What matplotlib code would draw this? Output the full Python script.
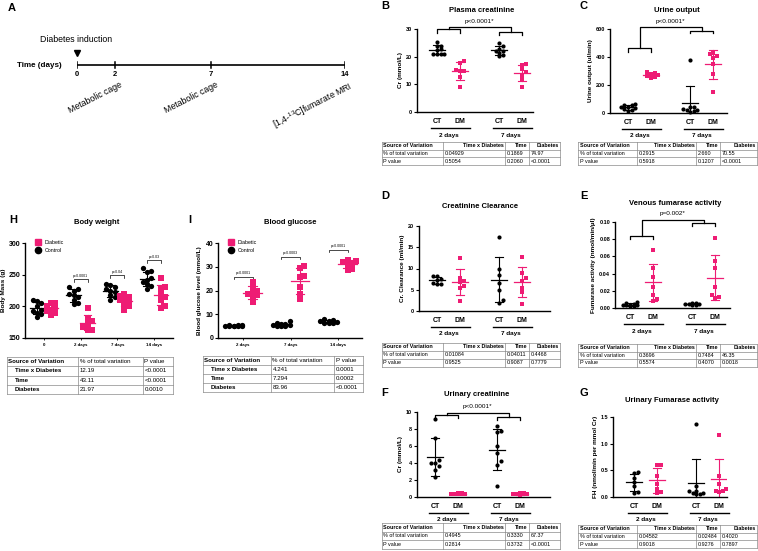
import numpy as np
import matplotlib
matplotlib.use("Agg")
import matplotlib.pyplot as plt
from matplotlib.lines import Line2D
from matplotlib import transforms

plt.rcParams['font.family'] = ['Liberation Sans', 'DejaVu Sans']

W, H = 758, 551
PINK = '#EE1C74'

# ---- timeline (panel A) ----
days = [0, 2, 7, 14]
day_notes = {2: 'Metabolic cage', 7: 'Metabolic cage',
             14: r'[1,4-$^{\mathregular{13}}$C]fumarate MRI'}

# ---- two-way panels: [CT 2d, DM 2d, CT 7d, DM 7d] ----
groups = ['CT', 'DM', 'CT', 'DM']
periods = ['2 days', '7 days']

plasma_cr = [
    [25.2, 24.0, 23.8, 22.6, 22.4, 21.0, 21.0, 20.9, 20.8],
    [18.6, 17.8, 15.2, 15.0, 14.8, 12.5, 9.0],
    [25.0, 24.0, 22.8, 22.2, 22.0, 21.5, 20.6, 20.2],
    [17.2, 17.0, 15.5, 14.5, 13.5, 12.0, 9.0],
]
urine_out = [
    [65, 60, 55, 45, 40, 35, 30, 22, 15],
    [292, 288, 280, 272, 262, 256, 250],
    [375, 45, 40, 30, 25, 20, 15, 10],
    [430, 420, 405, 395, 350, 280, 150],
]
cr_clear = [
    [8.3, 8.2, 7.5, 7.2, 6.5, 6.4, 6.3],
    [12.5, 7.8, 7.0, 6.8, 6.0, 5.5, 2.3],
    [17.3, 10.0, 8.5, 6.5, 5.0, 2.5, 1.8],
    [12.7, 9.0, 7.8, 7.0, 5.5, 4.5, 1.7],
]
fum_venous = [
    [0.007, 0.006, 0.005, 0.004, 0.004, 0.003, 0.003, 0.002, 0.002],
    [0.068, 0.046, 0.036, 0.024, 0.015, 0.011, 0.008],
    [0.006, 0.006, 0.005, 0.005, 0.005, 0.004, 0.004],
    [0.081, 0.055, 0.046, 0.025, 0.015, 0.013, 0.012],
]
urine_cr = [
    [9.2, 6.9, 4.3, 4.0, 4.0, 3.6, 3.2, 2.3],
    [0.5, 0.45, 0.4, 0.4, 0.35, 0.35, 0.3],
    [8.3, 7.8, 7.7, 6.0, 5.2, 4.2, 3.8, 1.3],
    [0.5, 0.45, 0.4, 0.35, 0.3, 0.3, 0.25],
]
fum_urine = [
    [0.47, 0.45, 0.35, 0.28, 0.20, 0.10, 0.08],
    [0.60, 0.60, 0.40, 0.25, 0.15, 0.10, 0.07],
    [1.36, 0.20, 0.12, 0.12, 0.08, 0.07, 0.06, 0.05],
    [1.17, 0.40, 0.25, 0.15, 0.12, 0.12, 0.10],
]

# ---- body weight / blood glucose ----
bw_days = ['0', '2 days', '7 days', '14 days']
bw_control = [[210, 208, 205, 200, 195, 192, 190, 188, 183],
              [230, 228, 225, 220, 218, 215, 210, 205, 203],
              [236, 234, 230, 228, 225, 222, 218, 215, 210],
              [260, 256, 254, 245, 242, 238, 235, 232, 228]]
bw_diabetic = [[206, 205, 200, 198, 195, 192, 190, 187],
               [198, 180, 177, 172, 168, 163, 162],
               [220, 217, 214, 212, 210, 207, 205, 200, 195],
               [245, 230, 228, 220, 215, 210, 200, 198]]
bw_pvals = [None, 'p=0.0001', 'p=0.04', 'p=0.03']

bg_days = ['2 days', '7 days', '14 days']
bg_control = [[5.5, 5.4, 5.3, 5.2, 5.2, 5.1, 5.0, 5.0, 4.9],
              [7.0, 6.5, 6.0, 5.8, 5.5, 5.3, 5.2, 5.0, 5.0],
              [8.0, 7.5, 7.2, 7.0, 6.8, 6.5, 6.3, 6.2]]
bg_diabetic = [[23.5, 21.5, 20.0, 19.0, 18.5, 18.0, 17.0, 15.0],
               [30.5, 29.5, 26.0, 25.5, 21.5, 18.5, 16.5],
               [33.0, 32.5, 32.0, 31.5, 31.0, 29.0, 28.5]]
bg_pvals = ['p<0.0001', 'p=0.0003', 'p<0.0001']

# ---- ANOVA tables ----
anova_header = ['Source of Variation', 'Time x Diabetes', 'Time', 'Diabetes']
anova_rows = ['% of total variation', 'P value']
anova_B = [['0.04929', '0.1869', '74.97'], ['0.5054', '0.2060', '<0.0001']]
anova_C = [['0.2915', '2.660', '70.55'], ['0.5918', '0.1207', '<0.0001']]
anova_D = [['0.01084', '0.04011', '0.4468'], ['0.9525', '0.9087', '0.7779']]
anova_E = [['0.3696', '0.7484', '46.35'], ['0.5574', '0.4070', '0.0018']]
anova_F = [['0.4945', '0.3330', '67.37'], ['0.2814', '0.3732', '<0.0001']]
anova_G = [['0.04582', '0.02484', '0.4020'], ['0.9018', '0.9276', '0.7897']]

two_header = ['Source of Variation', '% of total variation', 'P value']
two_rows = ['Time x Diabetes', 'Time', 'Diabetes']
anova_H = [['12.19', '<0.0001'], ['43.11', '<0.0001'], ['21.97', '0.0010']]
anova_I = [['4.241', '0.0001'], ['7.294', '0.0002'], ['83.96', '<0.0001']]


fig = plt.figure(figsize=(W / 100, H / 100), dpi=100)


def R(l, t, r, b):
    return [l / W, 1 - b / H, (r - l) / W, (b - t) / H]


def ftext(x, y, s, **kw):
    fig.text(x / W, 1 - y / H, s, **kw)


def fline(xs, ys, **kw):
    fig.add_artist(Line2D([x / W for x in xs], [1 - y / H for y in ys], **kw))


def swarm(vals, ppu_y, d, ppu_x, kmax=2):
    # simple beeswarm, limited width: overlap when the cluster is dense
    vals = np.asarray(vals, float)
    offs = np.zeros(len(vals))
    placed = []
    ks = [0]
    for k in range(1, kmax + 1):
        ks += [k, -k]
    step = d * 0.85
    for i in np.argsort(vals):
        y = vals[i] * ppu_y
        best, best_d = 0.0, -1
        for k in ks:
            x = k * step
            md = min([np.hypot(x - px, y - py) for px, py in placed] or [1e9])
            if md >= step:
                best = x
                break
            if md > best_d:
                best, best_d = x, md
        placed.append((best, y))
        offs[i] = best / ppu_x
    return offs


def mean_sd(ax, x, vals, color, mw, cw, lw=0.9):
    m, s = np.mean(vals), np.std(vals, ddof=1)
    ax.plot([x - mw, x + mw], [m, m], color=color, lw=lw)
    ax.plot([x, x], [m - s, m + s], color=color, lw=lw * 0.9)
    for yy in (m - s, m + s):
        ax.plot([x - cw, x + cw], [yy, yy], color=color, lw=lw * 0.9)


def style_axes(ax, ysize):
    for sp in ('top', 'right'):
        ax.spines[sp].set_visible(False)
    for sp in ('left', 'bottom'):
        ax.spines[sp].set_linewidth(1.0)
    ax.tick_params(axis='y', length=2.5, width=0.8, pad=1, labelsize=ysize)
    for lab in ax.get_yticklabels():
        lab.set_fontweight('bold')


def draw_table(xe, ye, cells, size, styles):
    for y in ye:
        fline([xe[0], xe[-1]], [y, y], color='#8a8a8a', lw=0.5)
    for x in xe:
        fline([x, x], [ye[0], ye[-1]], color='#8a8a8a', lw=0.5)
    for r, row in enumerate(cells):
        yc = (ye[r] + ye[r + 1]) / 2
        for c, txt in enumerate(row):
            bold, ha, pad = styles(r, c)
            x = xe[c] + pad if ha == 'left' else xe[c + 1] - pad
            ftext(x, yc, txt, fontsize=size, ha=ha, va='center',
                  fontweight='bold' if bold else 'normal')


def anova_style(r, c):
    if r == 0:
        return True, ('left' if c == 0 else 'right'), 1.5
    return False, 'left', 1.5


def two_style(r, c):
    if c == 0:
        return True, 'left', (1.5 if r == 0 else 8)
    return False, 'left', 1.5


POS = [0, 1, 2.7, 3.7]
PPU = 23.0


def group_panel(box, ct_px, data, ylim, yticks, ylabel, fmt, brackets=None):
    l, t, r, b = box
    ax = fig.add_axes(R(l, t, r, b))
    ax.set_xlim((l - ct_px) / PPU, (r - ct_px) / PPU)
    ax.set_ylim(ylim)
    ppu_y = (b - t) / (ylim[1] - ylim[0])
    for i, vals in enumerate(data):
        color = 'black' if i % 2 == 0 else PINK
        marker = 'o' if i % 2 == 0 else 's'
        off = swarm(vals, ppu_y, 4.2, PPU)
        ax.plot(POS[i] + off, vals, ls='none', marker=marker, ms=3.0,
                mfc=color, mec=color, mew=0, clip_on=False, zorder=3)
        mean_sd(ax, POS[i], vals, color, 0.34, 0.17)
    ax.set_yticks(yticks)
    ax.set_yticklabels([fmt.format(v) for v in yticks])
    ax.set_xticks(POS)
    ax.set_xticklabels(groups, fontsize=5, fontweight='bold')
    ax.tick_params(axis='x', length=0, pad=4)
    style_axes(ax, 4)
    ax.set_ylabel(ylabel, fontsize=4.6, fontweight='bold', labelpad=2)
    tr_line = transforms.offset_copy(ax.get_xaxis_transform(), fig, y=-16, units='dots')
    tr_text = transforms.offset_copy(ax.get_xaxis_transform(), fig, y=-23, units='dots')
    for k, per in enumerate(periods):
        x0 = POS[2 * k]
        ax.plot([x0 - 0.25, x0 + 1.45], [0, 0], color='black', lw=1.0,
                transform=tr_line, clip_on=False)
        ax.text(x0 + 0.5, 0, per, transform=tr_text, ha='center', va='center',
                fontsize=4.6, fontweight='bold')
    if brackets:
        (y2, d2), (y7, d7), ytop, ytxt, ptxt = brackets
        kw = dict(color='black', lw=0.9, clip_on=False)
        ax.plot([POS[0], POS[0], POS[1], POS[1]], [y2 - d2, y2, y2, y2 - d2], **kw)
        ax.plot([POS[2], POS[2], POS[3], POS[3]], [y7 - d7, y7, y7, y7 - d7], **kw)
        c2, c7 = (POS[0] + POS[1]) / 2, (POS[2] + POS[3]) / 2
        ax.plot([c2, c2, c7, c7], [y2, ytop, ytop, y7], **kw)
        ax.text((c2 + c7) / 2, ytxt, ptxt, ha='center', va='center', fontsize=4.6)
    return ax


# ---------------- Panel A: timeline ----------------
ftext(12, 8, 'A', fontsize=8, fontweight='bold', ha='center', va='center')
axA = fig.add_axes(R(77, 55, 345, 75))
axA.set_xlim(0, 14)
axA.set_ylim(-1, 1)
axA.axis('off')
axA.plot([days[0], days[-1]], [0, 0], color='black', lw=1.2)
for d in days:
    h = 0.35 if d in (0, 14) else 0.3
    axA.plot([d, d], [-h, h], color='black', lw=1.1)
    axA.text(d, -0.95, str(d), ha='center', va='center', fontsize=5.5, fontweight='bold')
axA.plot([0], [1.2], marker='v', ms=4.5, color='black', clip_on=False)
for d, note in day_notes.items():
    axA.annotate(note, xy=(d, 0), xytext=(4, -15), textcoords='offset pixels',
                 ha='right', va='top', rotation=27, rotation_mode='anchor',
                 fontsize=6.3)
ftext(39, 65, 'Time (days)', fontsize=5.8, fontweight='bold', ha='center', va='center')
ftext(76, 39, 'Diabetes induction', fontsize=6.3, ha='center', va='center')

# ---------------- Panels B - G ----------------
letters = [('B', 385, 6), ('C', 584, 6), ('D', 385, 196), ('E', 584, 196),
           ('F', 385, 393), ('G', 584, 393)]
for let, x, y in letters:
    ftext(x, y, let, fontsize=8, fontweight='bold', ha='center', va='center')

titles = [('Plasma creatinine', 482, 10), ('Urine output', 677, 10),
          ('Creatinine Clearance', 480, 206), ('Venous fumarase activity', 675, 204),
          ('Urinary creatinine', 477, 395), ('Urinary Fumarase activity', 672, 400)]
for s, x, y in titles:
    ftext(x, y, s, fontsize=5.5, fontweight='bold', ha='center', va='center')

group_panel((417, 29, 533, 112), 437, plasma_cr, (0, 30), [0, 10, 20, 30],
            'Cr (mmol/L)', '{:.0f}',
            ((29.9, 1.3), (29.0, 1.0), 30.9, 32.6, 'p<0.0001*'))
group_panel((610, 29, 727, 113), 628, urine_out, (0, 600), [0, 200, 400, 600],
            'Urine output (ul/min)', '{:.0f}',
            ((464, 26), (588, 19), 616, 650, 'p<0.0001*'))
group_panel((419, 226, 550, 311), 437, cr_clear, (0, 20), [0, 5, 10, 15, 20],
            'Cr. Clearance (ml/min)', '{:.0f}')
group_panel((615, 222, 730, 308), 630, fum_venous, (0, 0.10),
            [0, 0.02, 0.04, 0.06, 0.08, 0.10],
            'Fumarase activity (nmol/min/µl)', '{:.2f}',
            ((0.0837, 0.004), (0.0985, 0.003), 0.102, 0.110, 'p=0.002*'))
group_panel((417, 412, 550, 497), 435, urine_cr, (0, 10), [0, 2, 4, 6, 8, 10],
            'Cr (mmol/L)', '{:.0f}',
            ((9.65, 0.35), (9.4, 0.3), 9.85, 10.6, 'p<0.0001*'))
group_panel((613, 417, 727, 497), 634, fum_urine, (0, 1.5), [0, 0.5, 1.0, 1.5],
            'FH (nmol/min per mmol Cr)', '{:.1f}')

# tables
TL = [382, 443, 505, 529, 560]
TR = [578, 637, 696, 720, 757]
for xe, ye, vals in [(TL, [142, 149.7, 157.3, 165], anova_B),
                     (TR, [142, 149.7, 157.3, 165], anova_C),
                     (TL, [343, 351, 359, 367], anova_D),
                     (TR, [344, 351.5, 359, 366.5], anova_E),
                     (TL, [523, 531.5, 540, 548.5], anova_F),
                     (TR, [525, 532.7, 540.3, 548], anova_G)]:
    cells = [anova_header] + [[anova_rows[i]] + vals[i] for i in range(2)]
    draw_table(xe, ye, cells, 3.9, anova_style)

# ---------------- Panel H: body weight ----------------
ftext(13, 220, 'H', fontsize=8, fontweight='bold', ha='center', va='center')
ftext(97, 223, 'Body weight', fontsize=5.5, fontweight='bold', ha='center', va='center')
axH = fig.add_axes(R(25, 243, 173, 338))
ppx_h = 36.7
axH.set_xlim((25 - 44) / ppx_h, (173 - 44) / ppx_h)
axH.set_ylim(150, 300)
ppy_h = 95 / 150
for i in range(len(bw_days)):
    for vals, color, mk, dx in [(bw_control[i], 'black', 'o', -0.19),
                                (bw_diabetic[i], PINK, 's', 0.19)]:
        off = swarm(vals, ppy_h, 5.0, ppx_h)
        axH.plot(i + dx + off, vals, ls='none', marker=mk, ms=3.8, mfc=color,
                 mec=color, mew=0, zorder=3, clip_on=False)
        mean_sd(axH, i + dx, vals, color, 0.2, 0.1)
bw_br = [None, (243.2, 4.5, 248), (249.5, 4.5, 254), (273.2, 4.5, 278)]
for i, br in enumerate(bw_br):
    if br is None:
        continue
    y, dd, yt = br
    axH.plot([i - 0.19, i - 0.19, i + 0.19, i + 0.19], [y - dd, y, y, y - dd],
             color='black', lw=0.5)
    axH.text(i, yt, bw_pvals[i], ha='center', va='center', fontsize=2.6)
axH.set_xticks(range(len(bw_days)))
axH.set_xticklabels(bw_days, fontsize=3.2, fontweight='bold')
axH.tick_params(axis='x', length=1.5, width=0.6, pad=2)
axH.set_yticks([150, 200, 250, 300])
style_axes(axH, 5)
axH.set_ylabel('Body Mass (g)', fontsize=4.6, fontweight='bold', labelpad=2)
hnd = [Line2D([], [], ls='none', marker='s', ms=4.5, color=PINK),
       Line2D([], [], ls='none', marker='o', ms=4.5, color='black')]
axH.legend(hnd, ['Diabetic', 'Control'], loc='upper left',
           bbox_to_anchor=(36 / W, 1 - 240 / H), bbox_transform=fig.transFigure,
           frameon=False, fontsize=3.8, handlelength=0.8, handletextpad=0.8,
           labelspacing=0.6, borderpad=0, borderaxespad=0)
cellsH = [two_header] + [[two_rows[i]] + anova_H[i] for i in range(3)]
draw_table([7, 78, 143, 173], [357, 366.3, 375.6, 384.9, 394], cellsH, 4.4, two_style)

# ---------------- Panel I: blood glucose ----------------
ftext(190, 220, 'I', fontsize=8, fontweight='bold', ha='center', va='center')
ftext(290, 223, 'Blood glucose', fontsize=5.5, fontweight='bold', ha='center', va='center')
axI = fig.add_axes(R(218, 243, 362, 338))
ppx_i = 47.5
axI.set_xlim((218 - 243) / ppx_i, (362 - 243) / ppx_i)
axI.set_ylim(0, 40)
ppy_i = 95 / 40
for i in range(len(bg_days)):
    for vals, color, mk, dx in [(bg_control[i], 'black', 'o', -0.2),
                                (bg_diabetic[i], PINK, 's', 0.2)]:
        off = swarm(vals, ppy_i, 5.0, ppx_i)
        axI.plot(i + dx + off, vals, ls='none', marker=mk, ms=3.8, mfc=color,
                 mec=color, mew=0, zorder=3, clip_on=False)
        mean_sd(axI, i + dx, vals, color, 0.19, 0.09)
bg_br = [(25.7, 1.0, 27.4), (34.1, 1.0, 35.8), (37.1, 1.0, 38.6)]
for i, (y, dd, yt) in enumerate(bg_br):
    axI.plot([i - 0.2, i - 0.2, i + 0.2, i + 0.2], [y - dd, y, y, y - dd],
             color='black', lw=0.5, clip_on=False)
    axI.text(i, yt, bg_pvals[i], ha='center', va='center', fontsize=2.6)
axI.set_xticks(range(len(bg_days)))
axI.set_xticklabels(bg_days, fontsize=3.2, fontweight='bold')
axI.tick_params(axis='x', length=1.5, width=0.6, pad=2)
axI.set_yticks([0, 10, 20, 30, 40])
style_axes(axI, 5)
axI.set_ylabel('Blood glucose level (mmol/L)', fontsize=4.6, fontweight='bold', labelpad=2)
axI.legend(hnd, ['Diabetic', 'Control'], loc='upper left',
           bbox_to_anchor=(229 / W, 1 - 240 / H), bbox_transform=fig.transFigure,
           frameon=False, fontsize=3.8, handlelength=0.8, handletextpad=0.8,
           labelspacing=0.6, borderpad=0, borderaxespad=0)
cellsI = [two_header] + [[two_rows[i]] + anova_I[i] for i in range(3)]
draw_table([203, 271, 334, 363], [356, 365, 374, 383, 392], cellsI, 4.4, two_style)

fig.savefig('out.png', dpi=100)
